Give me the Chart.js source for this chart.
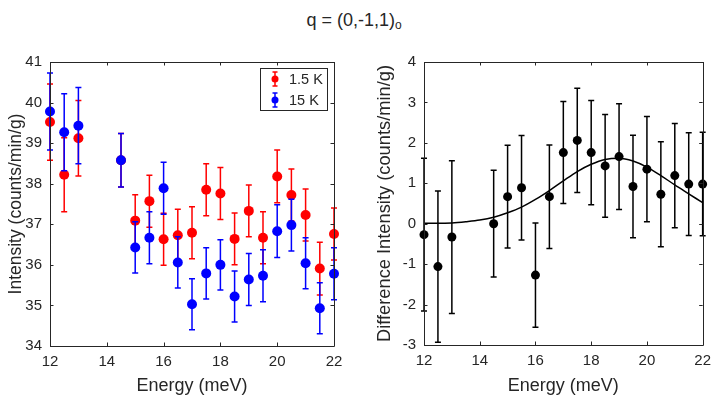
<!DOCTYPE html>
<html><head><meta charset="utf-8">
<script src="https://cdn.jsdelivr.net/npm/chart.js@4.4.1/dist/chart.umd.min.js"></script>
<style>
html,body{margin:0;padding:0;background:#fff;}
#wrap{position:relative;width:718px;height:399px;overflow:hidden;background:#fff;}
#title{position:absolute;left:-5px;width:718px;top:9px;text-align:center;font:18px "Liberation Sans",Arial,sans-serif;color:#262626;line-height:22px;}
#title sub{font-size:12px;vertical-align:-3px;line-height:0;}
.c{position:absolute;top:0;width:359px;height:399px;}
</style></head><body>
<div id="wrap">
<div id="title">q = (0,-1,1)<sub>o</sub></div>
<div class="c" style="left:0"><canvas id="c1" width="359" height="399"></canvas></div>
<div class="c" style="left:359px"><canvas id="c2" width="359" height="399"></canvas></div>
</div>
<script>
// ---- data ----
const energies = [12,12.5,13,14.5,15,15.5,16,16.5,17,17.5,18,18.5,19,19.5,20,20.5,21,21.5,22];
const int1p5K  = [39.52,38.22,39.12,38.58,37.09,37.57,36.63,36.73,36.79,37.85,37.76,36.64,37.33,36.67,38.18,37.72,37.23,35.91,36.76];
const err1p5K  = [0.94,0.91,0.93,0.66,0.64,0.64,0.64,0.64,0.64,0.64,0.64,0.64,0.64,0.64,0.65,0.64,0.64,0.65,0.64];
const int15K   = [39.78,39.27,39.43,38.58,36.43,36.67,37.89,36.06,35.03,35.79,36.00,35.22,35.64,35.73,36.83,36.98,36.04,34.93,35.78];
const err15K   = [0.95,0.95,0.94,0.66,0.63,0.64,0.64,0.63,0.63,0.63,0.62,0.63,0.64,0.64,0.65,0.64,0.63,0.63,0.64];
const diffInt  = [-0.27,-1.06,-0.33,0.00,0.67,0.89,-1.27,0.67,1.76,2.06,1.76,1.43,1.66,0.92,1.35,0.73,1.19,0.98,0.98];
const diffErr  = [1.89,1.87,1.89,1.32,1.27,1.29,1.29,1.28,1.26,1.29,1.29,1.27,1.31,1.27,1.30,1.30,1.29,1.27,1.28];
const fitE     = [12,12.5,13,13.5,14,14.5,15,15.5,16,16.5,17,17.5,18,18.5,19,19.5,20,20.5,21,21.5,22];
const fitY     = [0.01,0.01,0.02,0.05,0.09,0.16,0.27,0.41,0.60,0.82,1.06,1.29,1.47,1.59,1.62,1.55,1.40,1.19,0.96,0.74,0.52];
const leftYTicks = [34,35,36,37,38,39,40,41];
const rightYTicks = [-3,-2,-1,0,1,2,3,4];
const xTicks = [12,14,16,18,20,22];

const FONT = '"Liberation Sans", Arial, sans-serif';
const TXT = '#262626';

const pts = (xs, ys) => xs.map((x, i) => ({x: x, y: ys[i]}));

// error bars per dataset, drawn just before each dataset's markers
const errorBars = {
  id: 'errorBars',
  beforeDatasetDraw(chart, args) {
    const ds = chart.data.datasets[args.index];
    if (!ds.errors) return;
    const xs = chart.scales.x, ys = chart.scales.y, ctx = chart.ctx;
    ctx.save();
    ctx.strokeStyle = ds.borderColor;
    ctx.lineWidth = ds.errLineWidth || 1.5;
    const cap = ds.capHalf || 3;
    ds.data.forEach((p, i) => {
      const e = ds.errors[i];
      const px = xs.getPixelForValue(p.x);
      const y1 = ys.getPixelForValue(p.y - e), y2 = ys.getPixelForValue(p.y + e);
      ctx.beginPath();
      ctx.moveTo(px, y1); ctx.lineTo(px, y2);
      ctx.moveTo(px - cap, y1); ctx.lineTo(px + cap, y1);
      ctx.moveTo(px - cap, y2); ctx.lineTo(px + cap, y2);
      ctx.stroke();
    });
    ctx.restore();
  }
};

// MATLAB-like box with inward ticks
const boxTicks = {
  id: 'boxTicks',
  afterDatasetsDraw(chart) {
    const {ctx, chartArea: a} = chart;
    const xs = chart.scales.x, ys = chart.scales.y;
    ctx.save();
    ctx.strokeStyle = TXT;
    ctx.lineWidth = 1;
    ctx.beginPath();
    ctx.rect(Math.round(a.left) + 0.5, Math.round(a.top) + 0.5, Math.round(a.right - a.left), Math.round(a.bottom - a.top));
    const L = 3.5;
    xs.ticks.forEach(t => {
      const px = Math.round(xs.getPixelForValue(t.value)) + 0.5;
      ctx.moveTo(px, a.bottom); ctx.lineTo(px, a.bottom - L);
      ctx.moveTo(px, a.top); ctx.lineTo(px, a.top + L);
    });
    ys.ticks.forEach(t => {
      const py = Math.round(ys.getPixelForValue(t.value)) + 0.5;
      ctx.moveTo(a.left, py); ctx.lineTo(a.left + L, py);
      ctx.moveTo(a.right, py); ctx.lineTo(a.right - L, py);
    });
    ctx.stroke();
    ctx.restore();
  }
};

// legend box inside the left chart
const innerLegend = {
  id: 'innerLegend',
  afterDraw(chart, args, opts) {
    if (!opts || !opts.show) return;
    const ctx = chart.ctx;
    const x0 = opts.x, y0 = opts.y, w = opts.w, h = opts.h;
    ctx.save();
    ctx.fillStyle = '#fff';
    ctx.fillRect(x0, y0, w, h);
    ctx.strokeStyle = TXT;
    ctx.lineWidth = 1;
    ctx.strokeRect(x0 + 0.5, y0 + 0.5, w, h);
    const items = opts.order.map(i => chart.data.datasets[i]);
    items.forEach((ds, k) => {
      const cy = y0 + 11 + k * 21;
      const mx = x0 + 15;
      ctx.strokeStyle = ds.borderColor;
      ctx.fillStyle = ds.backgroundColor;
      ctx.lineWidth = 1.5;
      ctx.beginPath();
      ctx.moveTo(mx, cy - 7); ctx.lineTo(mx, cy + 7);
      ctx.moveTo(mx - 2.5, cy - 7); ctx.lineTo(mx + 2.5, cy - 7);
      ctx.moveTo(mx - 2.5, cy + 7); ctx.lineTo(mx + 2.5, cy + 7);
      ctx.stroke();
      ctx.beginPath();
      ctx.arc(mx, cy, 3.5, 0, Math.PI * 2);
      ctx.fill();
      ctx.fillStyle = TXT;
      ctx.font = '14.5px ' + FONT;
      ctx.textBaseline = 'middle';
      ctx.textAlign = 'left';
      ctx.fillText(ds.label, x0 + 29, cy + 1);
    });
    ctx.restore();
  }
};

function makeScales(yMin, yMax, yTicks, yTitle, yTitleSize, yWidth, yTitlePad, xHeight) {
  return {
    x: {
      type: 'linear', min: 12, max: 22,
      afterBuildTicks: s => { s.ticks = xTicks.map(v => ({value: v})); },
      afterFit: s => { s.height = xHeight; },
      grid: {display: false, drawTicks: false},
      border: {display: false},
      ticks: {color: TXT, font: {family: FONT, size: 15}, padding: 7, maxRotation: 0},
      title: {display: true, text: 'Energy (meV)', color: TXT, font: {family: FONT, size: 18}, padding: {top: 0, bottom: 2}}
    },
    y: {
      type: 'linear', min: yMin, max: yMax,
      afterBuildTicks: s => { s.ticks = yTicks.map(v => ({value: v})); },
      afterFit: s => { s.width = yWidth; },
      grid: {display: false, drawTicks: false},
      border: {display: false},
      ticks: {color: TXT, font: {family: FONT, size: 15}, padding: 8},
      title: {display: true, text: yTitle, color: TXT, font: {family: FONT, size: yTitleSize}, padding: {top: yTitlePad, bottom: 0}}
    }
  };
}

new Chart(document.getElementById('c1'), {
  type: 'scatter',
  data: {
    datasets: [
      {label: '1.5 K', data: pts(energies, int1p5K), errors: err1p5K, borderColor: '#ff0000', backgroundColor: '#ff0000',
       pointRadius: 5, pointBorderWidth: 0, pointHoverRadius: 5, clip: false, order: 2, capHalf: 3},
      {label: '15 K', data: pts(energies, int15K), errors: err15K, borderColor: '#0000ff', backgroundColor: '#0000ff',
       pointRadius: 5, pointBorderWidth: 0, pointHoverRadius: 5, clip: false, order: 1, capHalf: 3}
    ]
  },
  options: {
    responsive: false, animation: false, events: [],
    layout: {padding: {left: 0, top: 62, right: 25, bottom: 0}},
    plugins: {legend: {display: false}, tooltip: {enabled: false},
      innerLegend: {show: true, x: 260, y: 68, w: 67, h: 42, order: [0, 1]}},
    scales: makeScales(34, 41, leftYTicks, 'Intensity (counts/min/g)', 17.5, 50, 5.5, 53)
  },
  plugins: [errorBars, boxTicks, innerLegend]
});

new Chart(document.getElementById('c2'), {
  type: 'scatter',
  data: {
    datasets: [
      {label: 'difference', data: pts(energies, diffInt), errors: diffErr, borderColor: '#000000', backgroundColor: '#000000',
       pointRadius: 4.5, pointBorderWidth: 0, pointHoverRadius: 4.5, clip: false, order: 1, capHalf: 3},
      {label: 'fit', data: pts(fitE, fitY), showLine: true, borderColor: '#000000', backgroundColor: '#000000',
       borderWidth: 1.5, pointRadius: 0, cubicInterpolationMode: 'monotone', order: 2}
    ]
  },
  options: {
    responsive: false, animation: false, events: [],
    layout: {padding: {left: 0, top: 62, right: 10, bottom: 0}},
    plugins: {legend: {display: false}, tooltip: {enabled: false}, innerLegend: {show: false}},
    scales: makeScales(-3, 4, rightYTicks, 'Difference Intensity (counts/min/g)', 18.3, 65, 15, 54)
  },
  plugins: [errorBars, boxTicks, innerLegend]
});
</script>
</body></html>
